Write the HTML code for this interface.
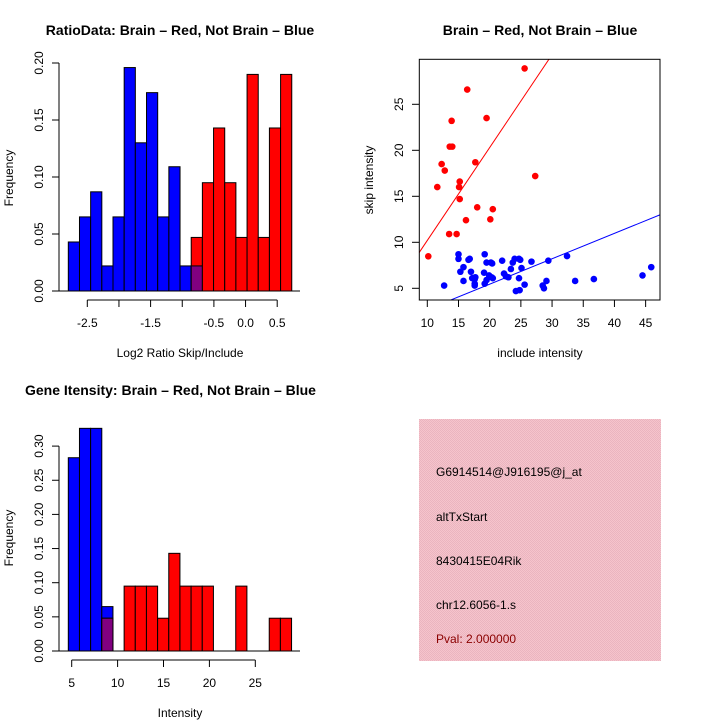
<!DOCTYPE html>
<html><head><meta charset="utf-8"><style>
html,body{margin:0;padding:0;background:#fff;}
svg{display:block;font-family:"Liberation Sans",sans-serif;}
</style></head><body>
<svg id="c" width="720" height="720" viewBox="0 0 720 720" xmlns="http://www.w3.org/2000/svg">
<rect width="720" height="720" fill="#fff"/>
<text x="180" y="35" text-anchor="middle" font-size="14" font-weight="bold">RatioData: Brain – Red, Not Brain – Blue</text>
<text x="180" y="357" text-anchor="middle" font-size="12">Log2 Ratio Skip/Include</text>
<text transform="translate(13,178) rotate(-90)" text-anchor="middle" font-size="12">Frequency</text>
<text x="540" y="35" text-anchor="middle" font-size="14" font-weight="bold">Brain – Red, Not Brain – Blue</text>
<text x="540" y="357" text-anchor="middle" font-size="12">include intensity</text>
<text transform="translate(373,180) rotate(-90)" text-anchor="middle" font-size="12">skip intensity</text>
<text x="25" y="395" font-size="14" font-weight="bold">Gene Itensity: Brain – Red, Not Brain – Blue</text>
<text x="180" y="717" text-anchor="middle" font-size="12">Intensity</text>
<text transform="translate(13,538) rotate(-90)" text-anchor="middle" font-size="12">Frequency</text>
<defs><pattern id="hatch" width="2" height="2" patternUnits="userSpaceOnUse"><rect width="2" height="2" fill="#f6c4cc"/><rect width="1" height="1" fill="#eab4bf"/><rect x="1" y="1" width="1" height="1" fill="#eab4bf"/></pattern></defs>
<g>
<rect x="419" y="419" width="242" height="242" fill="url(#hatch)"/>
<text x="436" y="476" font-size="12">G6914514@J916195@j_at</text>
<text x="436" y="521" font-size="12">altTxStart</text>
<text x="436" y="565" font-size="12">8430415E04Rik</text>
<text x="436" y="609" font-size="12">chr12.6056-1.s</text>
<text x="436" y="643" font-size="12" fill="#8b0000">Pval: 2.000000</text>
</g>
</svg>
<script>
// Ratio histogram data
const ratioBinStart = -2.8, ratioBinWidth = 0.1765;
const ratioBlue = [0.043,0.065,0.087,0.022,0.065,0.196,0.130,0.174,0.065,0.109,0.022,0.022,0,0,0,0,0,0,0,0];
const ratioRed  = [0,0,0,0,0,0,0,0,0,0,0,0.047,0.095,0.143,0.095,0.047,0.19,0.047,0.143,0.19];
const ratioXTicks = [-2.5,-2,-1.5,-1,-0.5,0,0.5];
const ratioXTickLabels = ["-2.5","","-1.5","","-0.5","0.0","0.5"];
const ratioYTicks = [0,0.05,0.10,0.15,0.20];
const ratioYTickLabels = ["0.00","0.05","0.10","0.15","0.20"];
// Intensity histogram data
const intBinStart = 4.63, intBinWidth = 1.216;
const intBlue = [0.283,0.326,0.326,0.065,0,0,0,0,0,0,0,0,0,0,0,0,0,0,0,0];
const intRed  = [0,0,0,0.048,0,0.095,0.095,0.095,0.048,0.143,0.095,0.095,0.095,0,0,0.095,0,0,0.048,0.048];
const intXTicks = [5,10,15,20,25];
const intXTickLabels = ["5","10","15","20","25"];
const intYTicks = [0,0.05,0.10,0.15,0.20,0.25,0.30];
const intYTickLabels = ["0.00","0.05","0.10","0.15","0.20","0.25","0.30"];
// Scatter data
const redX = [10.16,25.6,16.4,13.9,19.5,13.6,14.0,12.3,12.8,17.7,27.3,11.6,15.2,15.1,15.2,18.0,20.5,16.2,20.1,13.5,14.7];
const redY = [8.48,28.9,26.6,23.2,23.5,20.4,20.4,18.5,17.8,18.7,17.2,16.0,16.6,16.0,14.7,13.8,13.6,12.4,12.5,10.9,10.9];
const blueX = [12.7,15.0,15.0,15.3,15.8,15.8,16.6,16.8,17.0,17.2,17.6,17.6,17.6,17.7,19.2,19.1,19.2,19.5,20.2,19.5,19.9,20.3,20.5,20.4,22.0,22.3,22.6,23.0,23.4,23.7,24.0,24.7,24.9,24.7,25.1,24.2,24.8,25.6,26.7,28.5,28.7,29.1,29.4,32.4,33.7,36.7,44.5,45.9];
const blueY = [5.3,8.7,8.2,6.8,7.3,5.8,8.1,8.2,6.8,6.1,6.0,5.5,5.3,6.2,8.7,6.7,5.5,7.8,7.8,5.9,6.4,6.2,6.1,7.7,8.0,6.6,6.3,6.2,7.1,7.8,8.2,8.2,8.1,6.1,7.2,4.7,4.8,5.4,7.9,5.3,5.0,5.8,8.0,8.5,5.8,6.0,6.4,7.3];
const redFit = [0.10, 1.01];   // intercept, slope
const blueFit = [-0.07, 0.276];
const scXTicks = [10,15,20,25,30,35,40,45];
const scYTicks = [5,10,15,20,25];

const NS = "http://www.w3.org/2000/svg";
const svg = document.getElementById('c');
function mk(tag, attrs, parent){ const e=document.createElementNS(NS,tag); for(const k in attrs) e.setAttribute(k,attrs[k]); (parent||svg).appendChild(e); return e; }

function hist(opts){
  const g = mk('g',{});
  
  
  const sx = v => opts.x0 + (v - opts.xv0) * opts.xs;
  const sy = v => opts.y0 - v * opts.ys;
  const n = opts.blue.length;
  for(let i=0;i<n;i++){
    const l = sx(opts.start + i*opts.width), r = sx(opts.start + (i+1)*opts.width);
    const b = opts.blue[i], rd = opts.red[i];
    if(b>0){ const e=mk('rect',{x:l,y:sy(b),width:r-l,height:sy(0)-sy(b),fill:'#0000ff',stroke:'#000','stroke-width':1},g);
      
       }
    if(rd>0){ const e=mk('rect',{x:l,y:sy(rd),width:r-l,height:sy(0)-sy(rd),fill:'#ff0000',stroke:'#000','stroke-width':1},g);
      
       }
    const m = Math.min(b,rd);
    if(m>0){ const e=mk('rect',{x:l,y:sy(m),width:r-l,height:sy(0)-sy(m),fill:'#800080',stroke:'#000','stroke-width':1},g);
      
       }
  }
  mk('line',{x1:59,x2:300,y1:sy(0),y2:sy(0),stroke:'#000'},g);
  // y axis
  const ya = mk('g',{},g);
  
  
  const yt = opts.yTicks;
  mk('line',{x1:59,x2:59,y1:sy(yt[0]),y2:sy(yt[yt.length-1]),stroke:'#000'},ya);
  yt.forEach((v,i)=>{ mk('line',{x1:52,x2:59,y1:sy(v),y2:sy(v),stroke:'#000'},ya);
    const t=mk('text',{transform:`translate(43,${sy(v)}) rotate(-90)`,'text-anchor':'middle','font-size':12},ya); t.textContent=opts.yLabels[i]; });
  // x axis
  const xa = mk('g',{},g);
  
  
  const xt = opts.xTicks, ay = opts.axisY;
  mk('line',{x1:sx(xt[0]),x2:sx(xt[xt.length-1]),y1:ay,y2:ay,stroke:'#000'},xa);
  xt.forEach((v,i)=>{ mk('line',{x1:sx(v),x2:sx(v),y1:ay,y2:ay+7,stroke:'#000'},xa);
    const t=mk('text',{x:sx(v),y:ay+27,'text-anchor':'middle','font-size':12},xa); t.textContent=opts.xLabels[i]; });
}
hist({name:'ratio-histogram',x0:87.3,xv0:-2.5,xs:63.3,y0:291,ys:1140,start:ratioBinStart,width:ratioBinWidth,blue:ratioBlue,red:ratioRed,xTicks:ratioXTicks,xLabels:ratioXTickLabels,yTicks:ratioYTicks,yLabels:ratioYTickLabels,axisY:300});
hist({name:'intensity-histogram',x0:71.7,xv0:5,xs:9.18,y0:651,ys:683,start:intBinStart,width:intBinWidth,blue:intBlue,red:intRed,xTicks:intXTicks,xLabels:intXTickLabels,yTicks:intYTicks,yLabels:intYTickLabels,axisY:660});

// scatter
(function(){
  const g = mk('g',{});
  
  
  const sx = v => 427.3 + (v-10)*6.238;
  const sy = v => 288.3 - (v-5)*9.2;
  mk('defs',{},g).innerHTML='<clipPath id="clp"><rect x="419.3" y="59.3" width="240.7" height="240.7"/></clipPath>';
  const lines = mk('g',{'clip-path':'url(#clp)'},g);
  [[redFit,'#ff0000','red-fit-line'],[blueFit,'#0000ff','blue-fit-line']].forEach(([f,c,n])=>{
    const x1=8, x2=48;
    const l=mk('line',{x1:sx(x1),y1:sy(f[0]+f[1]*x1),x2:sx(x2),y2:sy(f[0]+f[1]*x2),stroke:c,'stroke-width':1},lines);
    
    
  });
  redX.forEach((x,i)=>{ const p=mk('circle',{cx:sx(x),cy:sy(redY[i]),r:3.3,fill:'#ff0000'},g);
    
     });
  blueX.forEach((x,i)=>{ const p=mk('circle',{cx:sx(x),cy:sy(blueY[i]),r:3.3,fill:'#0000ff'},g);
    
     });
  mk('rect',{x:419.3,y:59.3,width:240.7,height:240.7,fill:'none',stroke:'#000'},g);
  const xa=mk('g',{},g);
  
  
  scXTicks.forEach(v=>{ mk('line',{x1:sx(v),x2:sx(v),y1:300,y2:307,stroke:'#000'},xa);
    const t=mk('text',{x:sx(v),y:327,'text-anchor':'middle','font-size':12},xa); t.textContent=v; });
  const ya=mk('g',{},g);
  
  
  scYTicks.forEach(v=>{ mk('line',{x1:412,x2:419.3,y1:sy(v),y2:sy(v),stroke:'#000'},ya);
    const t=mk('text',{transform:`translate(403,${sy(v)}) rotate(-90)`,'text-anchor':'middle','font-size':12},ya); t.textContent=v; });
})();
</script>
</body></html>
